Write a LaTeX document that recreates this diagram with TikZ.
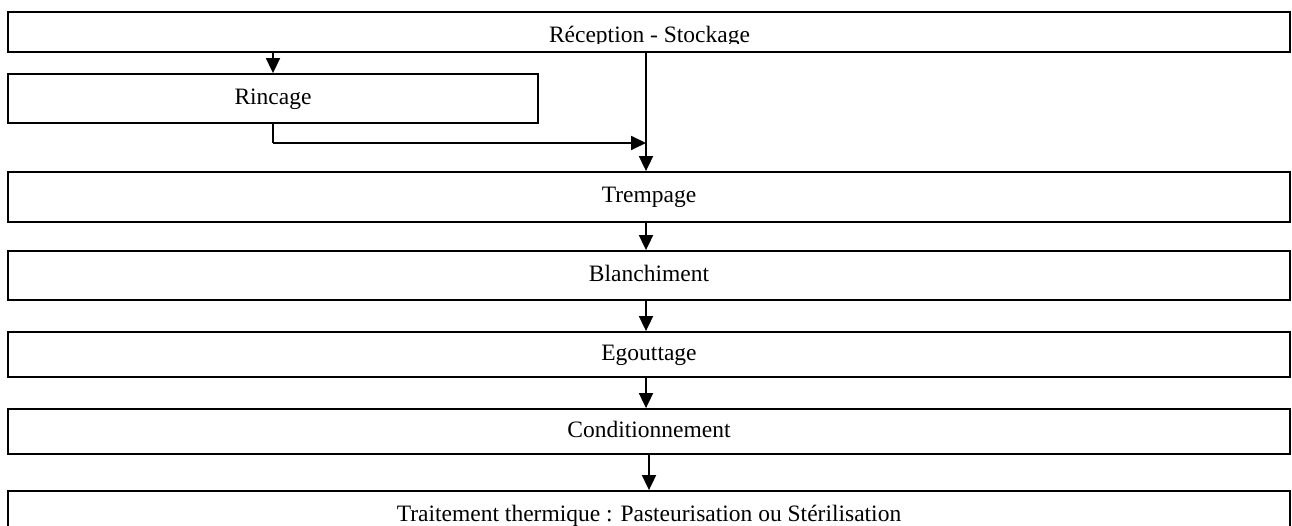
\documentclass[tikz,border=0pt]{standalone}
\usepackage{fontspec}
\setmainfont{Liberation Serif}
\usetikzlibrary{arrows.meta}
\begin{document}
\begin{tikzpicture}[x=1pt,y=-1pt,
  box/.style={draw,line width=1.8pt,inner sep=0pt,minimum height=#1,
    font=\fontsize{23.5}{28}\selectfont,text height=16.5pt,text depth=5pt},
  lbl/.style={font=\fontsize{23.5}{28}\selectfont,inner sep=0pt},
  arr/.style={line width=1.8pt,-{Triangle[length=15pt,width=14pt]}},
  conn/.style={line width=1.8pt}]
\useasboundingbox (0,0) rectangle (1292,526);
\clip (0,0) rectangle (1292,526);
\node[box=40pt,minimum width=1282pt] (rec) at (649,32) {};
\begin{scope}
\clip (0,0) rectangle (1292,43.5);
\node[lbl,anchor=base] (reclbl) at (649.5,43) {Réception - Stockage};
\end{scope}
\node[box=49pt,minimum width=530pt] (rin) at (273,98.5) {Rincage};
\node[box=50pt,minimum width=1282pt] (tre) at (649,197) {Trempage};
\node[box=49pt,minimum width=1282pt] (bla) at (649,275.5) {Blanchiment};
\node[box=45pt,minimum width=1282pt] (ego) at (649,354.5) {Egouttage};
\node[box=45pt,minimum width=1282pt] (con) at (649,431.5) {Conditionnement};
\node[box=49pt,minimum width=1282pt] (tra) at (649,515.5) {Traitement thermique : Pasteurisation ou Stérilisation};
\coordinate (sp) at (646,0);
\coordinate (jn) at (646,143);
\draw[arr] (rec.south -| rin.north) -- (rin.north);
\draw[arr] (rec.south -| sp) -- (tre.north -| sp);
\draw[conn] (rin.south) -- (rin.south |- jn);
\draw[arr] (rin.south |- jn) -- (jn);
\draw[arr] (tre.south -| sp) -- (bla.north -| sp);
\draw[arr] (bla.south -| sp) -- (ego.north -| sp);
\draw[arr] (ego.south -| sp) -- (con.north -| sp);
\draw[arr] (con.south) -- (tra.north);
\end{tikzpicture}
\end{document}
